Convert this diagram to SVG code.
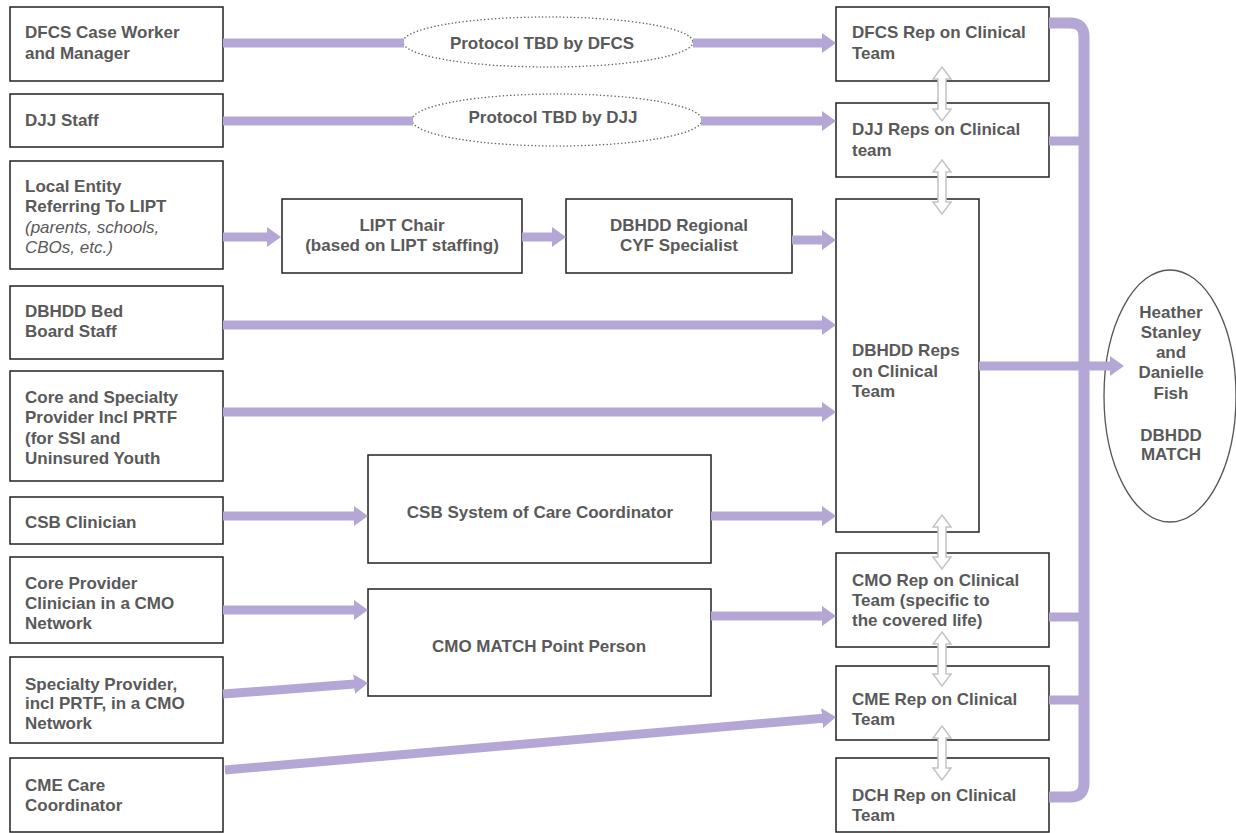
<svg xmlns="http://www.w3.org/2000/svg" width="1236" height="833" viewBox="0 0 1236 833">
<style>
.box{fill:#fff;stroke:#222;stroke-width:1.5}
.t{font-family:"Liberation Sans",Arial,sans-serif;font-weight:bold;font-size:17px;fill:#595959}
.it{font-weight:normal;font-style:italic}
.c{text-anchor:middle}
.ar{fill:none;stroke:#b4a7d6;stroke-width:9;marker-end:url(#ah)}
.ln{fill:none;stroke:#b4a7d6;stroke-width:9}
.bus{fill:none;stroke:#b4a7d6;stroke-width:11}
.dot{fill:#fff;stroke:#666;stroke-width:1.5;stroke-dasharray:0.1 3.5;stroke-linecap:round}
.dbl{fill:#fff;stroke:#c4c4c4;stroke-width:1.5}
</style>
<defs>
<marker id="ah" markerUnits="userSpaceOnUse" viewBox="0 0 14 20" refX="4" refY="10" markerWidth="14" markerHeight="20" orient="auto">
<path d="M0,0 L14,10 L0,20 z" fill="#b4a7d6"/>
</marker>
<path id="dbl" class="dbl" d="M0,0 L9,12 L4,12 L4,42 L9,42 L0,54 L-9,42 L-4,42 L-4,12 L-9,12 z"/>
</defs>

<g id="n-dfcs-worker"><rect class="box" x="10" y="7" width="213" height="74"/>
<text class="t" x="25" y="38">DFCS Case Worker</text><text class="t" x="25" y="59">and Manager</text></g>
<g id="n-djj-staff"><rect class="box" x="10" y="94" width="213" height="53"/>
<text class="t" x="25" y="126">DJJ Staff</text></g>
<g id="n-local-entity"><rect class="box" x="10" y="161" width="213" height="108"/>
<text class="t" x="25" y="192">Local Entity</text><text class="t" x="25" y="212">Referring To LIPT</text>
<text class="t it" x="25" y="233">(parents, schools,</text><text class="t it" x="25" y="253">CBOs, etc.)</text></g>
<g id="n-bed-board"><rect class="box" x="10" y="286" width="213" height="73"/>
<text class="t" x="25" y="317">DBHDD Bed</text><text class="t" x="25" y="337">Board Staff</text></g>
<g id="n-core-specialty"><rect class="box" x="10" y="371" width="213" height="110"/>
<text class="t" x="25" y="403">Core and Specialty</text><text class="t" x="25" y="423">Provider Incl PRTF</text>
<text class="t" x="25" y="444">(for SSI and</text><text class="t" x="25" y="464">Uninsured Youth</text></g>
<g id="n-csb-clinician"><rect class="box" x="10" y="497" width="213" height="47"/>
<text class="t" x="25" y="528">CSB Clinician</text></g>
<g id="n-core-provider"><rect class="box" x="10" y="557" width="213" height="86"/>
<text class="t" x="25" y="589">Core Provider</text><text class="t" x="25" y="609">Clinician in a CMO</text><text class="t" x="25" y="629">Network</text></g>
<g id="n-specialty-provider"><rect class="box" x="10" y="657" width="213" height="86"/>
<text class="t" x="25" y="690">Specialty Provider,</text><text class="t" x="25" y="709">incl PRTF, in a CMO</text><text class="t" x="25" y="729">Network</text></g>
<g id="n-cme-care"><rect class="box" x="10" y="758" width="213" height="74"/>
<text class="t" x="25" y="791">CME Care</text><text class="t" x="25" y="811">Coordinator</text></g>

<g id="n-protocol-dfcs"><ellipse class="dot" cx="548" cy="42" rx="145" ry="25"/>
<text class="t c" x="542" y="49">Protocol TBD by DFCS</text></g>
<g id="n-protocol-djj"><ellipse class="dot" cx="557" cy="120" rx="145" ry="26"/>
<text class="t c" x="553" y="123">Protocol TBD by DJJ</text></g>

<g id="n-lipt-chair"><rect class="box" x="282" y="199" width="240" height="74"/>
<text class="t c" x="402" y="231">LIPT Chair</text><text class="t c" x="402" y="251">(based on LIPT staffing)</text></g>
<g id="n-regional"><rect class="box" x="566" y="199" width="226" height="74"/>
<text class="t c" x="679" y="231">DBHDD Regional</text><text class="t c" x="679" y="251">CYF Specialist</text></g>
<g id="n-csb-soc"><rect class="box" x="368" y="455" width="343" height="108"/>
<text class="t c" x="540" y="518">CSB System of Care Coordinator</text></g>
<g id="n-cmo-match"><rect class="box" x="368" y="589" width="343" height="107"/>
<text class="t c" x="539" y="652">CMO MATCH Point Person</text></g>

<g id="n-dfcs-rep"><rect class="box" x="836" y="7" width="213" height="74"/>
<text class="t" x="852" y="38">DFCS Rep on Clinical</text><text class="t" x="852" y="59">Team</text></g>
<g id="n-djj-rep"><rect class="box" x="836" y="103" width="213" height="74"/>
<text class="t" x="852" y="135">DJJ Reps on Clinical</text><text class="t" x="852" y="156">team</text></g>
<g id="n-dbhdd-rep"><rect class="box" x="836" y="199" width="143" height="333"/>
<text class="t" x="852" y="356">DBHDD Reps</text><text class="t" x="852" y="377">on Clinical</text><text class="t" x="852" y="397">Team</text></g>
<g id="n-cmo-rep"><rect class="box" x="836" y="553" width="213" height="94"/>
<text class="t" x="852" y="586">CMO Rep on Clinical</text><text class="t" x="852" y="606">Team (specific to</text><text class="t" x="852" y="626">the covered life)</text></g>
<g id="n-cme-rep"><rect class="box" x="836" y="666" width="213" height="74"/>
<text class="t" x="852" y="705">CME Rep on Clinical</text><text class="t" x="852" y="725">Team</text></g>
<g id="n-dch-rep"><rect class="box" x="836" y="758" width="213" height="74"/>
<text class="t" x="852" y="801">DCH Rep on Clinical</text><text class="t" x="852" y="821">Team</text></g>

<g id="n-match"><ellipse cx="1170" cy="396" rx="66" ry="126" fill="#fff" stroke="#555" stroke-width="1.3"/>
<text class="t c" x="1171" y="318">Heather</text><text class="t c" x="1171" y="338">Stanley</text><text class="t c" x="1171" y="358">and</text>
<text class="t c" x="1171" y="378">Danielle</text><text class="t c" x="1171" y="399">Fish</text>
<text class="t c" x="1171" y="441">DBHDD</text><text class="t c" x="1171" y="460">MATCH</text></g>

<g id="connectors">
<path class="ln" d="M223 43 H404"/>
<path class="ar" d="M693 43 H826"/>
<path class="ln" d="M223 121 H413"/>
<path class="ar" d="M701 121 H826"/>
<path class="ar" d="M223 237 H271"/>
<path class="ar" d="M522 237 H556"/>
<path class="ar" d="M792 240 H826"/>
<path class="ar" d="M223 325 H826"/>
<path class="ar" d="M223 412 H826"/>
<path class="ar" d="M223 516 H358"/>
<path class="ar" d="M711 516 H826"/>
<path class="ar" d="M223 610 H358"/>
<path class="ar" d="M223 694 L358 683.8"/>
<path class="ar" d="M711 616 H826"/>
<path class="ar" d="M225 770 L826 717.9"/>
<path class="bus" d="M1049 23 H1070 Q1084 23 1084 37 V783 Q1084 797 1070 797 H1049"/>
<path class="ln" d="M1049 141 H1084 M1049 617 H1084 M1049 700 H1084" stroke-width="10"/>
<path class="ar" d="M979 366 H1114"/>
<use href="#dbl" x="942" y="67"/>
<use href="#dbl" x="942" y="160"/>
<use href="#dbl" x="942" y="515"/>
<use href="#dbl" x="942" y="632"/>
<use href="#dbl" x="942" y="726"/>
</g>
</svg>
